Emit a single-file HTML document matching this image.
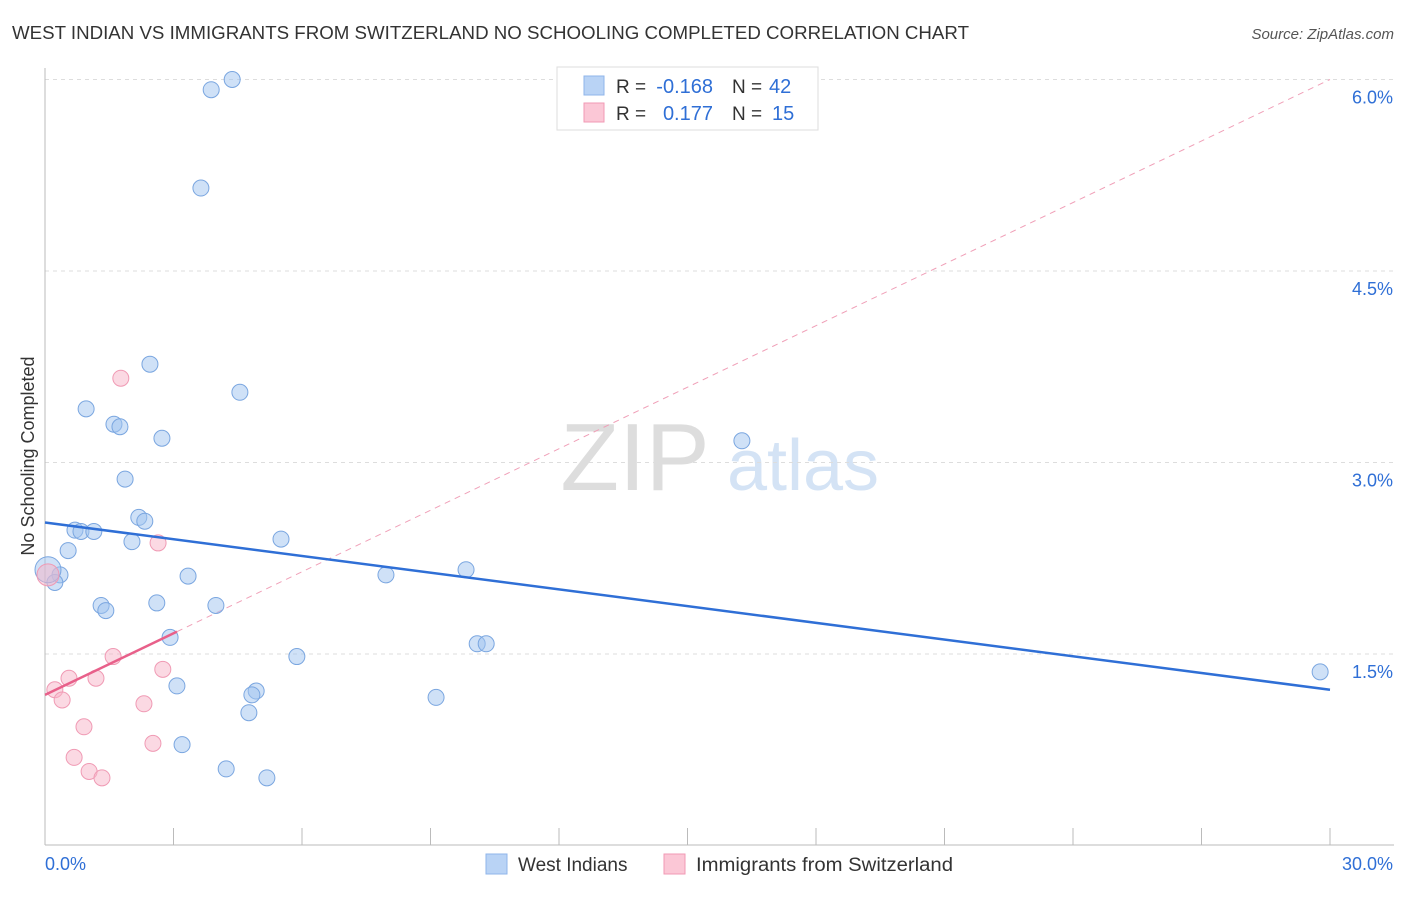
<!DOCTYPE html>
<html><head><meta charset="utf-8"><style>
body{margin:0;background:#fff;font-family:"Liberation Sans",sans-serif;}
svg text{font-family:"Liberation Sans",sans-serif;}
</style></head><body>
<svg id="c" width="1406" height="892" xmlns="http://www.w3.org/2000/svg">
<text x="12" y="39" font-size="18" fill="#333" textLength="957" lengthAdjust="spacingAndGlyphs">WEST INDIAN VS IMMIGRANTS FROM SWITZERLAND NO SCHOOLING COMPLETED CORRELATION CHART</text>
<text x="1394" y="39" font-size="15" fill="#555" font-style="italic" text-anchor="end">Source: ZipAtlas.com</text>
<text transform="translate(34,456) rotate(-90)" font-size="18" fill="#333" text-anchor="middle">No Schooling Completed</text>
<g>
<text x="635" y="490" font-size="96" fill="#ddd" font-family="Liberation Serif" text-anchor="middle">ZIP</text>
<text x="803" y="490" font-size="72" fill="#d4e3f5" text-anchor="middle">atlas</text>
</g>
<g id="grid"></g><g id="axes"></g><g id="lines"></g><g id="pts"></g>
<g>
<rect x="557" y="67" width="261" height="63" fill="#fff" stroke="#ddd"/>
<rect x="584" y="76" width="20" height="19" fill="#b9d3f5" stroke="#8fb5ea"/>
<rect x="584" y="103" width="20" height="19" fill="#fbc7d6" stroke="#f19ab4"/>
<text x="616" y="93" font-size="19" fill="#333">R =</text>
<text x="713" y="93" font-size="20" fill="#2f6fd6" text-anchor="end">-0.168</text>
<text x="732" y="93" font-size="19" fill="#333">N =</text>
<text x="769" y="93" font-size="20" fill="#2f6fd6">42</text>
<text x="616" y="120" font-size="19" fill="#333">R =</text>
<text x="713" y="120" font-size="20" fill="#2f6fd6" text-anchor="end">0.177</text>
<text x="732" y="120" font-size="19" fill="#333">N =</text>
<text x="772" y="120" font-size="20" fill="#2f6fd6">15</text>
</g>
<g>
<rect x="486" y="854" width="21" height="20" fill="#b9d3f5" stroke="#8fb5ea"/>
<text x="518" y="871" font-size="19" fill="#333">West Indians</text>
<rect x="664" y="854" width="21" height="20" fill="#fbc7d6" stroke="#f19ab4"/>
<text x="696" y="871" font-size="19" fill="#333" textLength="257" lengthAdjust="spacingAndGlyphs">Immigrants from Switzerland</text>
</g>
</svg>
<script>
const yTicks=[1.5,3.0,4.5,6.0];
const xTicks=[0,3,6,9,12,15,18,21,24,27,30];
const blueX=[4.37,3.88,3.64,2.45,4.55,0.96,1.61,1.75,2.73,16.27,1.87,2.19,2.33,0.70,0.84,1.14,2.03,5.51,0.54,9.83,3.34,7.96,0.35,0.23,1.31,1.42,2.61,3.99,2.92,10.09,10.30,5.88,3.08,4.93,4.83,9.13,4.76,3.20,4.23,5.18,29.77,0.07];
const blueY=[6.00,5.92,5.15,3.77,3.55,3.42,3.30,3.28,3.19,3.17,2.87,2.57,2.54,2.47,2.46,2.46,2.38,2.40,2.31,2.16,2.11,2.12,2.12,2.06,1.88,1.84,1.90,1.88,1.63,1.58,1.58,1.48,1.25,1.21,1.18,1.16,1.04,0.79,0.60,0.53,1.36,2.16];
const pinkX=[1.77,2.64,1.59,2.75,0.56,1.19,0.23,0.40,2.31,0.91,2.52,0.68,1.03,1.33,0.07];
const pinkY=[3.66,2.37,1.48,1.38,1.31,1.31,1.22,1.14,1.11,0.93,0.80,0.69,0.58,0.53,2.12];
const blueTrend=[2.53,1.22];
const pinkTrend=[1.18,6.0];
const NS="http://www.w3.org/2000/svg";
const X=v=>45+v/30*1285, Y=v=>845.5-v/1.5*191.5;
function mk(t,a,p){const e=document.createElementNS(NS,t);for(const k in a)e.setAttribute(k,a[k]);document.getElementById(p).appendChild(e);return e;}
yTicks.forEach(t=>{
 const l=mk('line',{x1:45,x2:1394,y1:Y(t),y2:Y(t),stroke:'#ddd','stroke-dasharray':'4,4'},'grid');
 
 
 const tx=mk('text',{x:1393,y:Y(t)+24,'font-size':18,fill:'#2f6fd6','text-anchor':'end'},'axes');tx.textContent=t.toFixed(1)+'%';
 
 
});
mk('line',{x1:45,x2:45,y1:68,y2:845,stroke:'#bbb'},'axes');
mk('line',{x1:45,x2:1394,y1:845,y2:845,stroke:'#bbb'},'axes');
xTicks.forEach(t=>{const l=mk('line',{x1:X(t),x2:X(t),y1:828,y2:845,stroke:'#bbb'},'axes');
 
 });
[[0,45,'start'],[30,1393,'end']].forEach(([v,x,a])=>{const tx=mk('text',{x:x,y:870,'font-size':18,fill:'#2f6fd6','text-anchor':a},'axes');tx.textContent=v.toFixed(1)+'%';
 
 });
let l=mk('line',{x1:X(3.08),y1:Y(pinkTrend[0]+(pinkTrend[1]-pinkTrend[0])*3.08/30),x2:X(30),y2:Y(pinkTrend[1]),stroke:'#f0a0b8','stroke-dasharray':'6,5'},'lines');


blueX.forEach((v,i)=>{const c=mk('circle',{cx:X(v),cy:Y(blueY[i]),r:i==41?13:8,fill:'rgba(160,196,240,0.5)',stroke:'#7aa6e0','stroke-width':1},'pts');
 
 });
pinkX.forEach((v,i)=>{const c=mk('circle',{cx:X(v),cy:Y(pinkY[i]),r:i==14?11:8,fill:'rgba(248,180,200,0.5)',stroke:'#f09ab4','stroke-width':1},'pts');
 
 });
l=mk('line',{x1:X(0),y1:Y(blueTrend[0]),x2:X(30),y2:Y(blueTrend[1]),stroke:'#2f6fd6','stroke-width':2.5},'pts');


l=mk('line',{x1:X(0),y1:Y(pinkTrend[0]),x2:X(3.08),y2:Y(pinkTrend[0]+(pinkTrend[1]-pinkTrend[0])*3.08/30),stroke:'#e8608a','stroke-width':2.5},'pts');


</script>
</body></html>
